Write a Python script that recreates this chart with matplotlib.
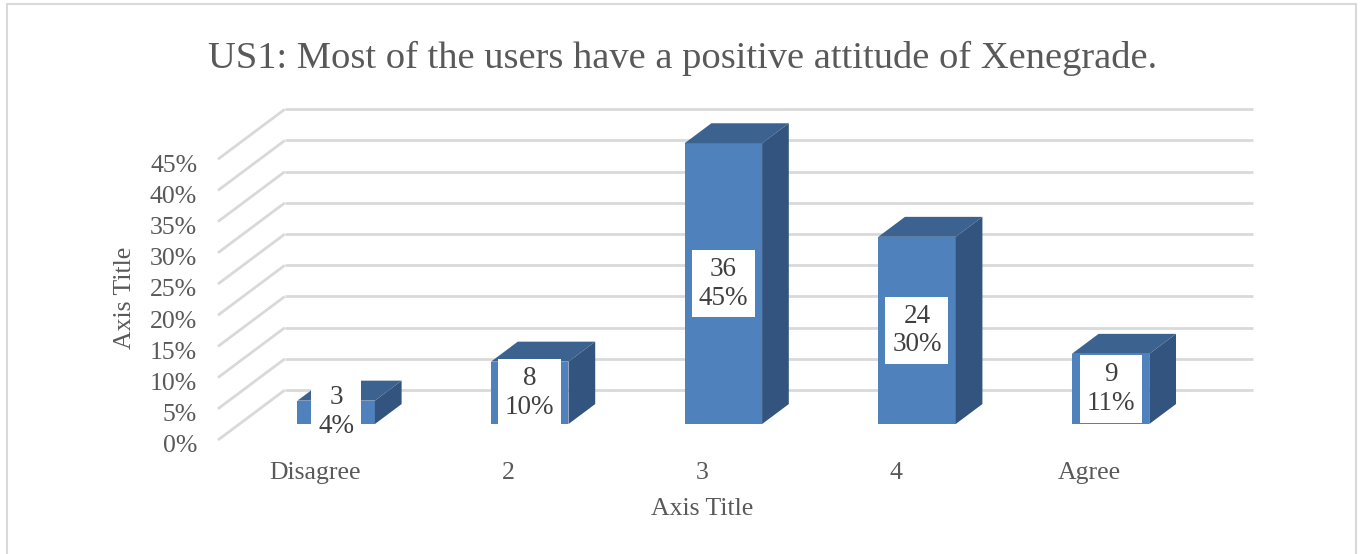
"""Pseudo-3D column chart of US1 survey answers (Excel style)."""

import matplotlib
matplotlib.use('Agg')
import matplotlib.pyplot as plt
import matplotlib.transforms as mtransforms
from matplotlib.patches import Polygon, Rectangle

categories = ['Disagree', '2', '3', '4', 'Agree']
counts = [3, 8, 36, 24, 9]
total = sum(counts)
shares = [c / total * 100 for c in counts]
y_ticks = [0, 5, 10, 15, 20, 25, 30, 35, 40, 45]

title = 'US1: Most of the users have a positive attitude of Xenegrade.'

FRONT = '#4F81BD'
TOP = '#3C6290'
SIDE = '#32547E'
GRID = '#D9D9D9'

# oblique depth offset of the chart box (in data units)
DX, DY = 0.345, 8.0
BAR_W = 0.4
D0, D1 = 0.32, 0.72   # bar front / back depth as fraction of the box

plt.rcParams['font.family'] = ['Liberation Serif', 'DejaVu Serif']

fig = plt.figure(figsize=(13.6, 5.54), dpi=100)
W, H = 1360, 554
ax = fig.add_axes([218 / W, (H - 440) / H, 968 / W, 312 / H])
ax.set_xlim(-0.5, 4.5)
ax.set_ylim(0, 50)
for s in ax.spines.values():
    s.set_visible(False)

# back wall and left wall gridlines
for t in y_ticks:
    ax.plot([-0.5 + DX, 4.5 + DX], [t + DY, t + DY], color=GRID, lw=2,
            zorder=1, clip_on=False, solid_capstyle='butt')
    ax.plot([-0.5, -0.5 + DX], [t, t + DY], color=GRID, lw=2,
            zorder=1, clip_on=False, solid_capstyle='butt')

# columns
xs = [i + D0 * DX for i in range(len(categories))]
y0 = D0 * DY
ax.bar(xs, shares, width=BAR_W, bottom=y0, color=FRONT, zorder=3, clip_on=False)
ddx, ddy = (D1 - D0) * DX, (D1 - D0) * DY
for x, v, n in zip(xs, shares, counts):
    l, r, top = x - BAR_W / 2, x + BAR_W / 2, y0 + v
    ax.add_patch(Polygon([(l, top), (r, top), (r + ddx, top + ddy), (l + ddx, top + ddy)],
                         closed=True, fc=TOP, ec='none', zorder=3, clip_on=False))
    ax.add_patch(Polygon([(r, y0), (r + ddx, y0 + ddy), (r + ddx, top + ddy), (r, top)],
                         closed=True, fc=SIDE, ec='none', zorder=3, clip_on=False))
    ax.text(x, y0 + v / 2, f'{n}\n{round(v)}%', ha='center', va='center',
            fontsize=19.5, color='#404040', linespacing=1.2, zorder=5,
            bbox=dict(boxstyle='square,pad=0.25', fc='white', ec='none'))

ax.set_xticks(range(len(categories)))
ax.set_xticklabels(categories)
ax.set_yticks(y_ticks)
ax.set_yticklabels([f'{t}%' for t in y_ticks])
ax.tick_params(axis='both', length=0, labelsize=18.5, labelcolor='#595959')
ax.tick_params(axis='x', pad=16)
ax.tick_params(axis='y', pad=15)
shift = mtransforms.ScaledTranslation(0, -4 / 100, fig.dpi_scale_trans)
for lab in ax.get_yticklabels():
    lab.set_transform(lab.get_transform() + shift)

ax.set_xlabel('Axis Title', fontsize=18.5, color='#595959', va='center')
ax.xaxis.set_label_coords(0.5, -0.221)
ax.set_ylabel('Axis Title', fontsize=18.5, color='#595959', va='center')
ax.yaxis.set_label_coords(-0.096, 0.455)

fig.text(683 / W, 1 - 58 / H, title, ha='center', va='center',
         fontsize=27.7, color='#595959')

fig.add_artist(Rectangle((7 / W, -0.05), 1349 / W, 1 - 4 / H + 0.05,
                         transform=fig.transFigure, fill=False,
                         ec=GRID, lw=1.5))

fig.savefig('out.png', dpi=100)
